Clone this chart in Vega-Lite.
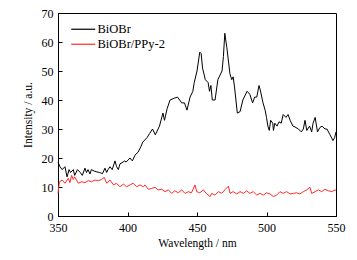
{
  "$schema": "https://vega.github.io/schema/vega-lite/v6.json",
  "autosize": "none",
  "width": 278,
  "height": 203,
  "padding": {"left": 58, "top": 13, "right": 21, "bottom": 44},
  "background": "white",
  "config": {
    "view": {"stroke": "black", "strokeWidth": 1},
    "font": "Liberation Serif",
    "axis": {"labelFont": "Liberation Serif", "titleFont": "Liberation Serif", "labelFontSize": 12, "titleFontSize": 11.5, "labelColor": "black", "titleColor": "black", "titleFontWeight": "normal", "domainColor": "black", "tickColor": "black", "grid": false}
  },
  "datasets": {
    "curves": [
      {"wl": 350, "v": 18.6, "s": "BiOBr"}, {"wl": 351.4, "v": 17, "s": "BiOBr"}, {"wl": 353, "v": 16, "s": "BiOBr"}, {"wl": 355, "v": 17, "s": "BiOBr"}, {"wl": 356.5, "v": 13.5, "s": "BiOBr"}, {"wl": 358, "v": 16, "s": "BiOBr"}, {"wl": 359, "v": 15, "s": "BiOBr"}, {"wl": 361, "v": 16, "s": "BiOBr"}, {"wl": 362, "v": 14, "s": "BiOBr"}, {"wl": 364, "v": 16, "s": "BiOBr"}, {"wl": 366, "v": 15, "s": "BiOBr"}, {"wl": 367.5, "v": 14, "s": "BiOBr"}, {"wl": 369.4, "v": 16.5, "s": "BiOBr"}, {"wl": 370.5, "v": 15, "s": "BiOBr"}, {"wl": 371.6, "v": 16, "s": "BiOBr"}, {"wl": 373, "v": 14.5, "s": "BiOBr"}, {"wl": 374, "v": 16, "s": "BiOBr"}, {"wl": 376, "v": 15.5, "s": "BiOBr"}, {"wl": 378, "v": 15.2, "s": "BiOBr"}, {"wl": 380, "v": 15, "s": "BiOBr"}, {"wl": 382, "v": 14.6, "s": "BiOBr"}, {"wl": 383.8, "v": 16.5, "s": "BiOBr"}, {"wl": 385, "v": 15, "s": "BiOBr"}, {"wl": 386, "v": 16, "s": "BiOBr"}, {"wl": 387.4, "v": 17, "s": "BiOBr"}, {"wl": 389, "v": 16, "s": "BiOBr"}, {"wl": 391, "v": 19, "s": "BiOBr"}, {"wl": 392.2, "v": 17, "s": "BiOBr"}, {"wl": 393.4, "v": 16, "s": "BiOBr"}, {"wl": 394.6, "v": 18, "s": "BiOBr"}, {"wl": 396.8, "v": 18.6, "s": "BiOBr"}, {"wl": 398, "v": 19, "s": "BiOBr"}, {"wl": 399, "v": 18.6, "s": "BiOBr"}, {"wl": 401.8, "v": 20, "s": "BiOBr"}, {"wl": 403.5, "v": 19, "s": "BiOBr"}, {"wl": 405.4, "v": 21, "s": "BiOBr"}, {"wl": 407.6, "v": 22, "s": "BiOBr"}, {"wl": 409.7, "v": 24, "s": "BiOBr"}, {"wl": 411, "v": 25.5, "s": "BiOBr"}, {"wl": 414, "v": 27, "s": "BiOBr"}, {"wl": 416, "v": 28.5, "s": "BiOBr"}, {"wl": 418, "v": 30, "s": "BiOBr"}, {"wl": 420, "v": 28, "s": "BiOBr"}, {"wl": 423, "v": 31, "s": "BiOBr"}, {"wl": 425.5, "v": 35.5, "s": "BiOBr"}, {"wl": 426.6, "v": 33, "s": "BiOBr"}, {"wl": 428.5, "v": 37, "s": "BiOBr"}, {"wl": 430.6, "v": 40, "s": "BiOBr"}, {"wl": 434, "v": 40.7, "s": "BiOBr"}, {"wl": 436, "v": 41, "s": "BiOBr"}, {"wl": 439, "v": 39, "s": "BiOBr"}, {"wl": 441, "v": 39, "s": "BiOBr"}, {"wl": 442.8, "v": 36.5, "s": "BiOBr"}, {"wl": 445, "v": 41, "s": "BiOBr"}, {"wl": 447, "v": 43, "s": "BiOBr"}, {"wl": 448, "v": 46, "s": "BiOBr"}, {"wl": 450, "v": 50, "s": "BiOBr"}, {"wl": 452, "v": 56.5, "s": "BiOBr"}, {"wl": 453, "v": 56, "s": "BiOBr"}, {"wl": 454, "v": 51, "s": "BiOBr"}, {"wl": 456, "v": 47, "s": "BiOBr"}, {"wl": 458, "v": 46, "s": "BiOBr"}, {"wl": 459, "v": 43, "s": "BiOBr"}, {"wl": 460, "v": 45, "s": "BiOBr"}, {"wl": 461, "v": 40, "s": "BiOBr"}, {"wl": 463, "v": 40, "s": "BiOBr"}, {"wl": 465, "v": 47, "s": "BiOBr"}, {"wl": 468, "v": 50, "s": "BiOBr"}, {"wl": 469, "v": 55, "s": "BiOBr"}, {"wl": 470, "v": 63, "s": "BiOBr"}, {"wl": 471.5, "v": 58, "s": "BiOBr"}, {"wl": 473.7, "v": 49, "s": "BiOBr"}, {"wl": 475, "v": 47, "s": "BiOBr"}, {"wl": 476, "v": 48, "s": "BiOBr"}, {"wl": 477, "v": 44.5, "s": "BiOBr"}, {"wl": 479, "v": 35.5, "s": "BiOBr"}, {"wl": 481, "v": 36, "s": "BiOBr"}, {"wl": 483, "v": 40, "s": "BiOBr"}, {"wl": 486, "v": 43, "s": "BiOBr"}, {"wl": 488, "v": 42, "s": "BiOBr"}, {"wl": 490, "v": 39, "s": "BiOBr"}, {"wl": 491.5, "v": 41, "s": "BiOBr"}, {"wl": 493, "v": 41, "s": "BiOBr"}, {"wl": 494.6, "v": 45, "s": "BiOBr"}, {"wl": 495.5, "v": 43.5, "s": "BiOBr"}, {"wl": 497.5, "v": 39, "s": "BiOBr"}, {"wl": 499, "v": 36.5, "s": "BiOBr"}, {"wl": 500, "v": 34, "s": "BiOBr"}, {"wl": 501, "v": 31, "s": "BiOBr"}, {"wl": 502, "v": 29.5, "s": "BiOBr"}, {"wl": 503, "v": 33, "s": "BiOBr"}, {"wl": 504.5, "v": 32, "s": "BiOBr"}, {"wl": 505, "v": 29.5, "s": "BiOBr"}, {"wl": 506, "v": 32, "s": "BiOBr"}, {"wl": 507.6, "v": 31, "s": "BiOBr"}, {"wl": 509, "v": 32.5, "s": "BiOBr"}, {"wl": 510.6, "v": 32, "s": "BiOBr"}, {"wl": 512, "v": 35, "s": "BiOBr"}, {"wl": 514, "v": 34, "s": "BiOBr"}, {"wl": 515.5, "v": 35, "s": "BiOBr"}, {"wl": 517, "v": 33, "s": "BiOBr"}, {"wl": 519, "v": 31, "s": "BiOBr"}, {"wl": 520.5, "v": 30.7, "s": "BiOBr"}, {"wl": 523, "v": 30, "s": "BiOBr"}, {"wl": 525, "v": 29, "s": "BiOBr"}, {"wl": 526.5, "v": 30, "s": "BiOBr"}, {"wl": 527.7, "v": 33, "s": "BiOBr"}, {"wl": 529, "v": 29.5, "s": "BiOBr"}, {"wl": 531, "v": 31, "s": "BiOBr"}, {"wl": 532.5, "v": 29, "s": "BiOBr"}, {"wl": 533.5, "v": 32, "s": "BiOBr"}, {"wl": 535, "v": 34, "s": "BiOBr"}, {"wl": 536.7, "v": 29, "s": "BiOBr"}, {"wl": 538.4, "v": 30.5, "s": "BiOBr"}, {"wl": 540, "v": 31, "s": "BiOBr"}, {"wl": 542, "v": 30, "s": "BiOBr"}, {"wl": 543.5, "v": 30, "s": "BiOBr"}, {"wl": 545.7, "v": 28, "s": "BiOBr"}, {"wl": 547.8, "v": 26, "s": "BiOBr"}, {"wl": 549, "v": 27, "s": "BiOBr"}, {"wl": 550, "v": 29, "s": "BiOBr"},
      {"wl": 350, "v": 7.8, "s": "BiOBr/PPy-2"}, {"wl": 351, "v": 11.8, "s": "BiOBr/PPy-2"}, {"wl": 353, "v": 12.4, "s": "BiOBr/PPy-2"}, {"wl": 355, "v": 11.3, "s": "BiOBr/PPy-2"}, {"wl": 357.4, "v": 13, "s": "BiOBr/PPy-2"}, {"wl": 358.6, "v": 11.5, "s": "BiOBr/PPy-2"}, {"wl": 359.8, "v": 14, "s": "BiOBr/PPy-2"}, {"wl": 361, "v": 12.6, "s": "BiOBr/PPy-2"}, {"wl": 362, "v": 13.5, "s": "BiOBr/PPy-2"}, {"wl": 364.6, "v": 11.3, "s": "BiOBr/PPy-2"}, {"wl": 367, "v": 11.8, "s": "BiOBr/PPy-2"}, {"wl": 369.4, "v": 11.5, "s": "BiOBr/PPy-2"}, {"wl": 371.8, "v": 12.2, "s": "BiOBr/PPy-2"}, {"wl": 374, "v": 11.8, "s": "BiOBr/PPy-2"}, {"wl": 376.6, "v": 12.4, "s": "BiOBr/PPy-2"}, {"wl": 379, "v": 12.2, "s": "BiOBr/PPy-2"}, {"wl": 381.4, "v": 12.6, "s": "BiOBr/PPy-2"}, {"wl": 383.3, "v": 13.3, "s": "BiOBr/PPy-2"}, {"wl": 385, "v": 11.3, "s": "BiOBr/PPy-2"}, {"wl": 387.4, "v": 12.4, "s": "BiOBr/PPy-2"}, {"wl": 390, "v": 10.7, "s": "BiOBr/PPy-2"}, {"wl": 392, "v": 11.3, "s": "BiOBr/PPy-2"}, {"wl": 394.6, "v": 10.1, "s": "BiOBr/PPy-2"}, {"wl": 397, "v": 11, "s": "BiOBr/PPy-2"}, {"wl": 399.4, "v": 10.1, "s": "BiOBr/PPy-2"}, {"wl": 401.8, "v": 10.7, "s": "BiOBr/PPy-2"}, {"wl": 404, "v": 11.3, "s": "BiOBr/PPy-2"}, {"wl": 406.6, "v": 10.1, "s": "BiOBr/PPy-2"}, {"wl": 409, "v": 10.7, "s": "BiOBr/PPy-2"}, {"wl": 411.4, "v": 10.1, "s": "BiOBr/PPy-2"}, {"wl": 412.6, "v": 10.7, "s": "BiOBr/PPy-2"}, {"wl": 415, "v": 9.2, "s": "BiOBr/PPy-2"}, {"wl": 417.4, "v": 9.5, "s": "BiOBr/PPy-2"}, {"wl": 419.8, "v": 9.9, "s": "BiOBr/PPy-2"}, {"wl": 422, "v": 9, "s": "BiOBr/PPy-2"}, {"wl": 424.6, "v": 9.2, "s": "BiOBr/PPy-2"}, {"wl": 427, "v": 8.4, "s": "BiOBr/PPy-2"}, {"wl": 429.4, "v": 9, "s": "BiOBr/PPy-2"}, {"wl": 431.8, "v": 7.8, "s": "BiOBr/PPy-2"}, {"wl": 434, "v": 8.7, "s": "BiOBr/PPy-2"}, {"wl": 436.6, "v": 8, "s": "BiOBr/PPy-2"}, {"wl": 439, "v": 9, "s": "BiOBr/PPy-2"}, {"wl": 441.4, "v": 7.8, "s": "BiOBr/PPy-2"}, {"wl": 443.8, "v": 8.4, "s": "BiOBr/PPy-2"}, {"wl": 446, "v": 8, "s": "BiOBr/PPy-2"}, {"wl": 448.6, "v": 10.7, "s": "BiOBr/PPy-2"}, {"wl": 449.8, "v": 8.4, "s": "BiOBr/PPy-2"}, {"wl": 452, "v": 8, "s": "BiOBr/PPy-2"}, {"wl": 454.6, "v": 9, "s": "BiOBr/PPy-2"}, {"wl": 457, "v": 7.6, "s": "BiOBr/PPy-2"}, {"wl": 459.4, "v": 6.7, "s": "BiOBr/PPy-2"}, {"wl": 460.6, "v": 7.8, "s": "BiOBr/PPy-2"}, {"wl": 463, "v": 7.2, "s": "BiOBr/PPy-2"}, {"wl": 465.4, "v": 8.4, "s": "BiOBr/PPy-2"}, {"wl": 467.8, "v": 7.8, "s": "BiOBr/PPy-2"}, {"wl": 470, "v": 9, "s": "BiOBr/PPy-2"}, {"wl": 472.6, "v": 10.3, "s": "BiOBr/PPy-2"}, {"wl": 473.8, "v": 7.8, "s": "BiOBr/PPy-2"}, {"wl": 476, "v": 8.4, "s": "BiOBr/PPy-2"}, {"wl": 478.6, "v": 7.6, "s": "BiOBr/PPy-2"}, {"wl": 481, "v": 8.4, "s": "BiOBr/PPy-2"}, {"wl": 483.4, "v": 7.8, "s": "BiOBr/PPy-2"}, {"wl": 485.8, "v": 8.7, "s": "BiOBr/PPy-2"}, {"wl": 488, "v": 7.8, "s": "BiOBr/PPy-2"}, {"wl": 490.5, "v": 8.4, "s": "BiOBr/PPy-2"}, {"wl": 493, "v": 7.2, "s": "BiOBr/PPy-2"}, {"wl": 495.3, "v": 7.8, "s": "BiOBr/PPy-2"}, {"wl": 497.7, "v": 7.2, "s": "BiOBr/PPy-2"}, {"wl": 500, "v": 8, "s": "BiOBr/PPy-2"}, {"wl": 502.5, "v": 7.6, "s": "BiOBr/PPy-2"}, {"wl": 505, "v": 6.7, "s": "BiOBr/PPy-2"}, {"wl": 507.3, "v": 7.2, "s": "BiOBr/PPy-2"}, {"wl": 509.7, "v": 8.4, "s": "BiOBr/PPy-2"}, {"wl": 512, "v": 7.8, "s": "BiOBr/PPy-2"}, {"wl": 514.5, "v": 8.4, "s": "BiOBr/PPy-2"}, {"wl": 516.9, "v": 7.6, "s": "BiOBr/PPy-2"}, {"wl": 519.3, "v": 7.8, "s": "BiOBr/PPy-2"}, {"wl": 521.7, "v": 8, "s": "BiOBr/PPy-2"}, {"wl": 524, "v": 7.6, "s": "BiOBr/PPy-2"}, {"wl": 526.5, "v": 8.4, "s": "BiOBr/PPy-2"}, {"wl": 529, "v": 9, "s": "BiOBr/PPy-2"}, {"wl": 531.3, "v": 9.9, "s": "BiOBr/PPy-2"}, {"wl": 532.5, "v": 7.8, "s": "BiOBr/PPy-2"}, {"wl": 535, "v": 8.4, "s": "BiOBr/PPy-2"}, {"wl": 537.3, "v": 9, "s": "BiOBr/PPy-2"}, {"wl": 539.7, "v": 8.4, "s": "BiOBr/PPy-2"}, {"wl": 542, "v": 9.2, "s": "BiOBr/PPy-2"}, {"wl": 544.5, "v": 8.7, "s": "BiOBr/PPy-2"}, {"wl": 547, "v": 8.4, "s": "BiOBr/PPy-2"}, {"wl": 549.3, "v": 9, "s": "BiOBr/PPy-2"}, {"wl": 550, "v": 8.8, "s": "BiOBr/PPy-2"}
    ]
  },
  "data": {"name": "curves"},
  "mark": {"type": "line", "strokeWidth": 1, "interpolate": "linear"},
  "encoding": {
    "x": {"field": "wl", "type": "quantitative", "scale": {"domain": [350, 550], "nice": false, "zero": false},
      "axis": {"title": "Wavelength / nm", "values": [350, 400, 450, 500, 550], "tickSize": -4, "labelPadding": 10, "titlePadding": 4, "labelFlush": false}},
    "y": {"field": "v", "type": "quantitative", "scale": {"domain": [0, 70], "nice": false},
      "axis": {"title": "Intensity / a.u.", "values": [0, 10, 20, 30, 40, 50, 60, 70], "tickSize": -4, "labelPadding": 9, "titlePadding": 8}},
    "color": {"field": "s", "type": "nominal", "scale": {"domain": ["BiOBr", "BiOBr/PPy-2"], "range": ["black", "#ff2a2a"]},
      "legend": {"title": null, "orient": "none", "legendX": 19, "legendY": 10, "symbolType": "M-2.4,0H2.4", "symbolSize": 100, "symbolStrokeWidth": 1.2, "labelFont": "Liberation Serif", "labelFontSize": 12.5, "labelColor": "black", "rowPadding": 2, "labelOffset": 8}}
  }
}
